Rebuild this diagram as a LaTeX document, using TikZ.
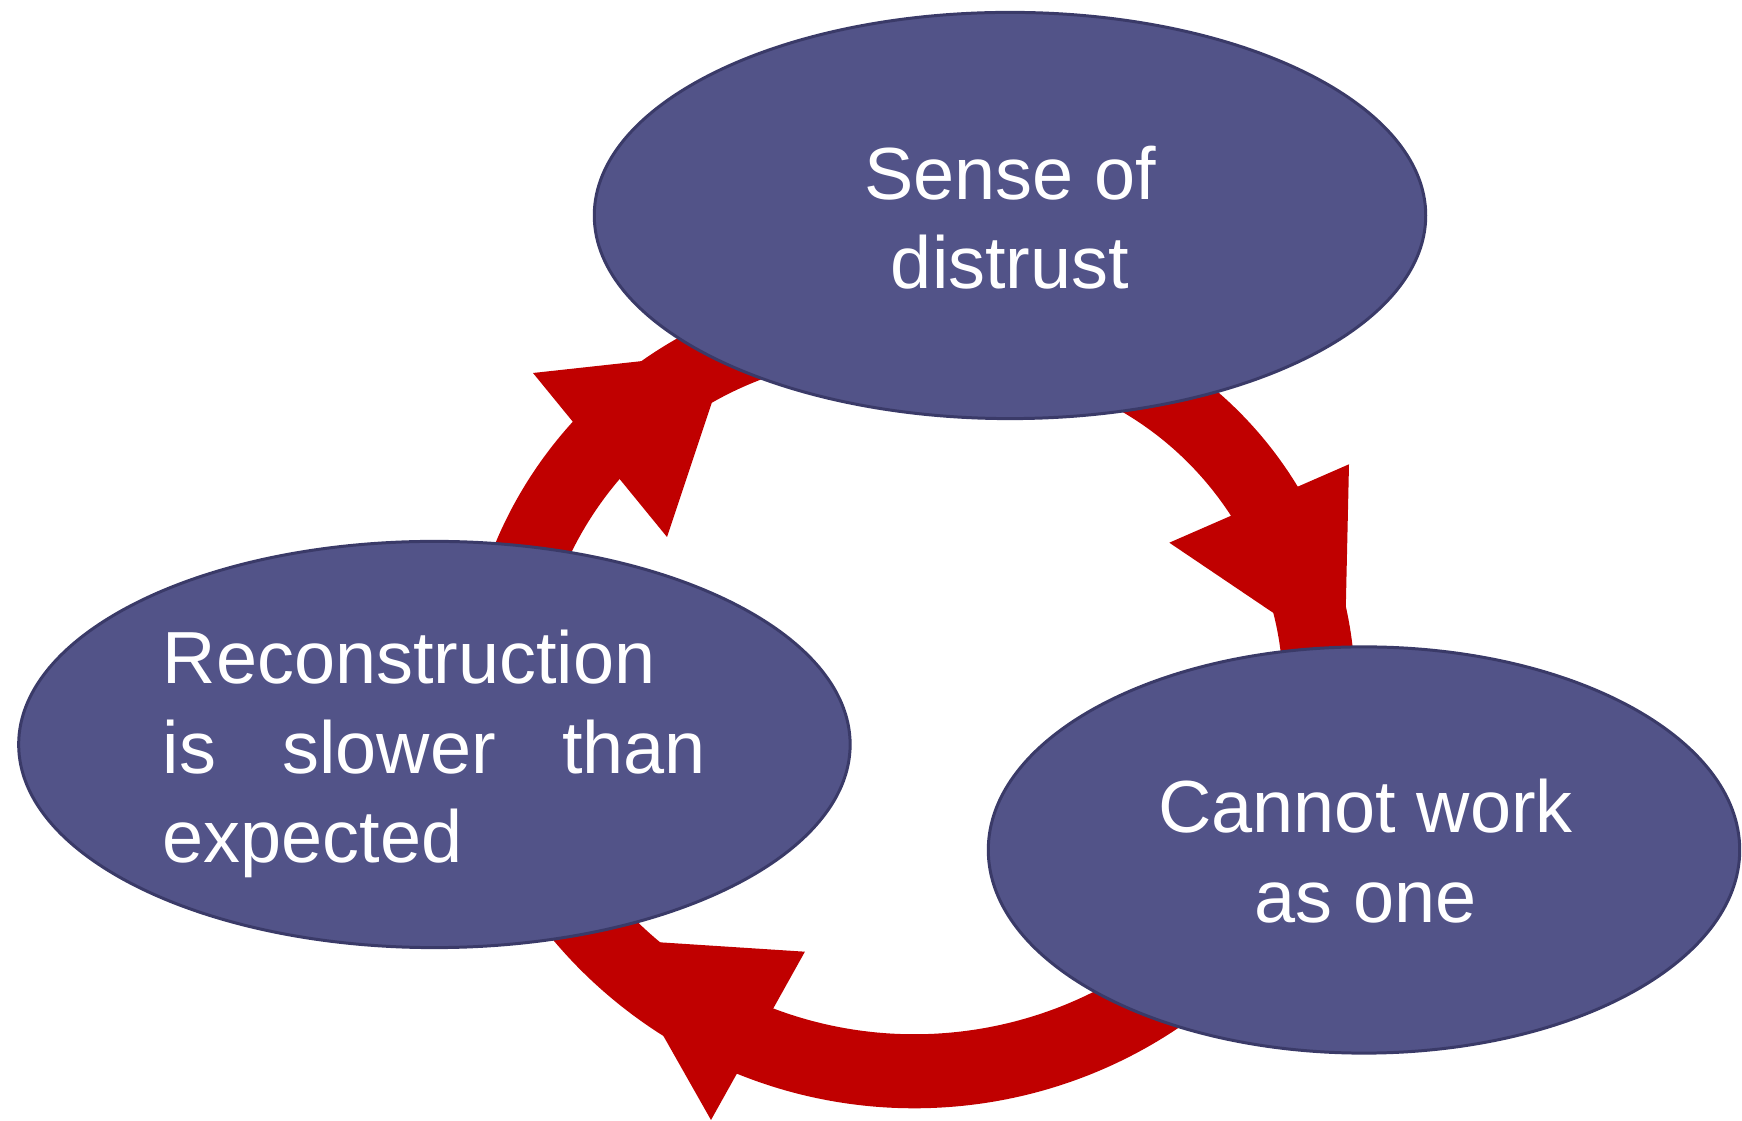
\documentclass[tikz,border=0pt]{standalone}
\usepackage{fontspec}
\setmainfont{Liberation Sans}
\usetikzlibrary{shapes.geometric}
\definecolor{ellfill}{RGB}{82,83,136}
\definecolor{elldraw}{RGB}{58,58,104}
\definecolor{arrred}{RGB}{192,0,0}
\pgfdeclarelayer{background}
\pgfsetlayers{background,main}
\begin{document}
\begin{tikzpicture}[x=0.01cm,y=0.01cm,
  bubble/.style={ellipse, fill=ellfill, draw=elldraw, line width=0.85pt,
    inner sep=0pt, minimum height=4.06cm},
  txt/.style={text=white, inner sep=0pt, font=\fontsize{21}{25.5}\selectfont},
  shaft/.style={draw=arrred, line width=#1, line cap=butt},
  head/.style={fill=arrred}]
\useasboundingbox (0,0) rectangle (1742,1121);

% ellipses
\node[bubble, minimum width=8.31cm] (distrust) at (1010,905.5) {};
\node[bubble, minimum width=8.31cm] (recon) at (434.4,376.5) {};
\node[bubble, minimum width=7.51cm] (work) at (1364,271) {};

% texts
\node[txt, align=center] (distrustT) at (1010,903.25) {Sense of\\distrust};
\node[txt, align=left] (reconT) at (434.4,367) {Reconstruction\\\makebox[5.43cm][s]{is slower than}\\expected};
\node[txt, align=center] (workT) at (1365.5,270) {Cannot work\\as one};

% arrows
\coordinate (c1) at (885,415);
\coordinate (c2) at (958,428.5);
\coordinate (c3) at (914.6,485);
\begin{pgfonlayer}{background}
  % recon -> distrust
  \draw[shaft=0.73cm] ([shift={(170:3.855cm)}]c1) arc[start angle=170, end angle=95, radius=3.855cm];
  \fill[head] (533,748) coordinate (h1a) -- (728.8,769.4) coordinate (h1t) -- (667,584) coordinate (h1b) -- cycle;
  % distrust -> work
  \draw[shaft=0.72cm] ([shift={(68:3.61cm)}]c2) arc[start angle=68, end angle=-8, radius=3.61cm];
  \fill[head] (1349,656.7) coordinate (h2a) -- (1344.6,460) coordinate (h2t) -- (1169.3,578.3) coordinate (h2b) -- cycle;
  % work -> recon
  \draw[shaft=0.74cm] ([shift={(-38:4.35cm)}]c3) arc[start angle=-38, end angle=-165, radius=4.35cm];
  \fill[head] (711,1) coordinate (h3a) -- (608.5,182) coordinate (h3t) -- (804.9,169.3) coordinate (h3b) -- cycle;
\end{pgfonlayer}
\end{tikzpicture}
\end{document}
